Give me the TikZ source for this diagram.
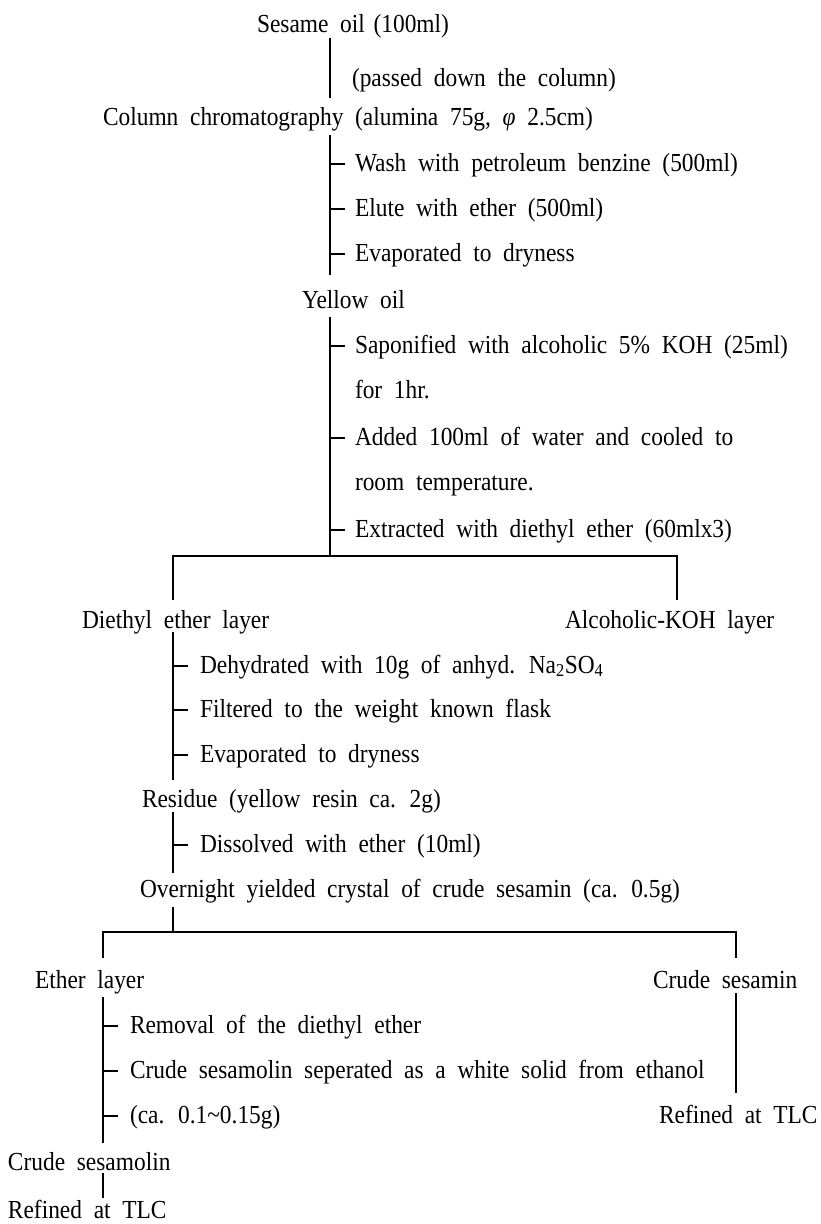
\documentclass[tikz,border=0pt]{standalone}
\usepackage{fontspec}
\setmainfont{Liberation Serif}[FakeStretch=0.9, WordSpace=2]
\begin{document}
\begin{tikzpicture}[x=1pt,y=-1pt,
  lbl/.style={anchor=base west, inner sep=0pt, outer sep=0pt, font=\fontsize{26}{30}\selectfont},
  ln/.style={line width=1.6pt},
  tick/.style={line width=1.3pt}]
\useasboundingbox (0,0) rectangle (821,1224);
% ---- texts
\node[lbl] (sesame) at (257,32) {Sesame oil\hspace{-3pt} (100ml)};
\node[lbl] (passed) at (352,86) {(passed down the column)};
\node[lbl] (column) at (103,125) {Column chromatography (alumina 75g, \textit{φ} 2.5cm)};
\node[lbl] (wash) at (355,171) {Wash with petroleum benzine (500ml)};
\node[lbl] (elute) at (355,216) {Elute with ether (500ml)};
\node[lbl] (evapA) at (355,261) {Evaporated to dryness};
\node[lbl] (yellow) at (302,308) {Yellow oil};
\node[lbl] (sapon) at (355,353) {Saponified with alcoholic 5\% KOH (25ml)};
\node[lbl] (hr) at (355,398) {for 1hr.};
\node[lbl] (added) at (355,445) {Added 100ml of water and cooled to};
\node[lbl] (room) at (355,490) {room temperature.};
\node[lbl] (extr) at (355,537) {Extracted with diethyl ether (60mlx3)};
\node[lbl] (diethyl) at (82,628) {Diethyl ether layer};
\node[lbl] (alckoh) at (565,628) {Alcoholic-KOH layer};
\node[lbl] (dehyd) at (200,673) {Dehydrated with 10g of anhyd. Na\textsubscript{2}SO\textsubscript{4}};
\node[lbl] (filt) at (200,717) {Filtered to the weight known flask};
\node[lbl] (evapB) at (200,762) {Evaporated to dryness};
\node[lbl] (residue) at (142,807) {Residue (yellow resin ca. 2g)};
\node[lbl] (dissolved) at (200,852) {Dissolved with ether (10ml)};
\node[lbl] (overnight) at (140,897) {Overnight yielded crystal of crude sesamin (ca. 0.5g)};
\node[lbl] (etherl) at (35,988) {Ether layer};
\node[lbl] (crudesesamin) at (653,988) {Crude sesamin};
\node[lbl] (removal) at (130,1033) {Removal of the diethyl ether};
\node[lbl] (sep) at (130,1078) {Crude sesamolin seperated as a white solid from ethanol};
\node[lbl] (ca) at (130,1123) {(ca. 0.1\textasciitilde0.15g)};
\node[lbl] (refR) at (659,1123) {Refined at TLC};
\node[lbl] (crudesesamolin) at (8,1170) {Crude sesamolin};
\node[lbl] (refL) at (8,1218) {Refined at TLC};
% ---- line end points
\coordinate (a1) at (330,38);  \coordinate (a2) at (330,98);
\coordinate (b1) at (330,135); \coordinate (b2) at (330,275);
\coordinate (c1) at (330,317); \coordinate (c2) at (330,556);
\coordinate (hl) at (173,556); \coordinate (hr2) at (677,556);
\coordinate (dl) at (173,600); \coordinate (dr) at (677,600);
\coordinate (d1) at (173,632); \coordinate (d2) at (173,780);
\coordinate (e1) at (173,812); \coordinate (e2) at (173,873);
\coordinate (f1) at (173,907); \coordinate (f2) at (173,932);
\coordinate (gl) at (103,932); \coordinate (gr) at (736,932);
\coordinate (gl2) at (103,958); \coordinate (gr2) at (736,958);
\coordinate (h1) at (103,997); \coordinate (h2) at (103,1143);
\coordinate (k1) at (736,993); \coordinate (k2) at (736,1093);
\coordinate (m1) at (103,1173); \coordinate (m2) at (103,1198);
% ---- connectors
\draw[ln] (a1) -- (a2);
\draw[ln] (b1) -- (b2);
\draw[ln] (c1) -- (c2);
\draw[ln] (dl) -- (hl) -- (hr2) -- (dr);
\draw[ln] (d1) -- (d2);
\draw[ln] (e1) -- (e2);
\draw[ln] (f1) -- (f2);
\draw[ln] (gl2) -- (gl) -- (gr) -- (gr2);
\draw[ln] (h1) -- (h2);
\draw[ln] (k1) -- (k2);
\draw[ln] (m1) -- (m2);
% ---- ticks
\foreach \n in {wash,elute,evapA}
  \draw[tick] (b1 |- \n.base) ++(0,-7) -- ++(15,0);
\foreach \n in {sapon,added,extr}
  \draw[tick] (c1 |- \n.base) ++(0,-7) -- ++(15,0);
\foreach \n in {dehyd,filt,evapB}
  \draw[tick] (d1 |- \n.base) ++(0,-7) -- ++(15,0);
\draw[tick] (e1 |- dissolved.base) ++(0,-7) -- ++(15,0);
\foreach \n in {removal,sep,ca}
  \draw[tick] (h1 |- \n.base) ++(0,-7) -- ++(15,0);
\end{tikzpicture}
\end{document}
